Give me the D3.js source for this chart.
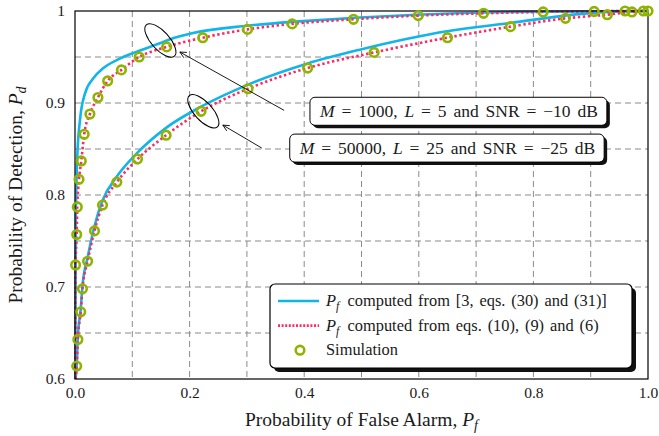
<!DOCTYPE html>
<html>
<head>
<meta charset="utf-8">
<script src="https://cdn.jsdelivr.net/npm/d3@7"></script>
<style>
    body { margin: 0; background: #fff; }
    svg text { font-family: "Liberation Serif", "DejaVu Serif", serif; fill: #1a1a1a; }
</style>
</head>
<body>
<div id="chart"></div>
<script>
//simulation points, M = 1000, L = 5, SNR = -10 dB
var pfSimA = [0.001, 0.003, 0.004, 0.007, 0.011, 0.016, 0.026, 0.040, 0.057, 0.081, 0.112, 0.160, 0.223, 0.301, 0.379, 0.486, 0.599, 0.713, 0.817, 0.906, 0.960, 0.992];
var pdSimA = [0.724, 0.757, 0.787, 0.817, 0.837, 0.866, 0.888, 0.906, 0.924, 0.936, 0.950, 0.961, 0.971, 0.980, 0.986, 0.991, 0.995, 0.9975, 0.999, 0.9995, 1.0, 1.0];

//simulation points, M = 50000, L = 25, SNR = -25 dB
var pfSimB = [0.003, 0.005, 0.010, 0.013, 0.022, 0.034, 0.048, 0.073, 0.109, 0.159, 0.220, 0.302, 0.406, 0.522, 0.650, 0.760, 0.856, 0.929, 0.972, 1.0];
var pdSimB = [0.614, 0.643, 0.673, 0.698, 0.728, 0.761, 0.789, 0.814, 0.839, 0.865, 0.891, 0.9155, 0.938, 0.955, 0.971, 0.983, 0.992, 0.996, 0.999, 1.0];

//curve from eqs. (10), (9) and (6)
var pfEqA = [0.0005, 0.001, 0.003, 0.004, 0.007, 0.011, 0.016, 0.026, 0.040, 0.057, 0.081, 0.112, 0.160, 0.223, 0.301, 0.379, 0.486, 0.599, 0.713, 0.817, 0.906, 0.960, 1.0];
var pdEqA = [0.600, 0.724, 0.757, 0.787, 0.817, 0.837, 0.866, 0.888, 0.906, 0.924, 0.936, 0.950, 0.961, 0.971, 0.980, 0.986, 0.991, 0.995, 0.9975, 0.999, 0.9995, 1.0, 1.0];
var pfEqB = [0.001, 0.003, 0.005, 0.010, 0.013, 0.022, 0.034, 0.048, 0.073, 0.109, 0.159, 0.220, 0.302, 0.406, 0.522, 0.650, 0.760, 0.856, 0.929, 0.972, 1.0];
var pdEqB = [0.600, 0.614, 0.643, 0.673, 0.698, 0.728, 0.761, 0.789, 0.814, 0.839, 0.865, 0.891, 0.9155, 0.938, 0.955, 0.971, 0.983, 0.992, 0.996, 0.999, 1.0];

//curve from [3, eqs. (30) and (31)]
var pfRefA = [0.0005, 0.0015, 0.004, 0.0087, 0.0175, 0.032, 0.049, 0.073, 0.108, 0.148, 0.166, 0.206, 0.300, 0.398, 0.497, 0.596, 0.771, 1.0];
var pdRefA = [0.600, 0.780, 0.842, 0.8815, 0.9105, 0.9268, 0.9377, 0.9467, 0.9558, 0.9649, 0.9692, 0.976, 0.984, 0.989, 0.993, 0.996, 0.999, 1.0];
var pfRefB = [0.001, 0.003, 0.005, 0.010, 0.013, 0.022, 0.034, 0.048, 0.073, 0.109, 0.159, 0.220, 0.302, 0.406, 0.497, 0.649, 0.759, 0.904, 1.0];
var pdRefB = [0.600, 0.616, 0.646, 0.676, 0.701, 0.732, 0.766, 0.794, 0.820, 0.846, 0.873, 0.896, 0.920, 0.943, 0.958, 0.978, 0.987, 0.998, 1.0];

//tick values
var xTicks = [0, 0.2, 0.4, 0.6, 0.8, 1.0];
var yTicks = [0.6, 0.7, 0.8, 0.9, 1.0];
var xGrid = [0.1, 0.2, 0.3, 0.4, 0.5, 0.6, 0.7, 0.8, 0.9];
var yGrid = [0.65, 0.7, 0.75, 0.8, 0.85, 0.9, 0.95];

//legend labels
var legendLabels = ['computed from [3, eqs. (30) and (31)]', 'computed from eqs. (10), (9) and (6)', 'Simulation'];

var width = 659, height = 436,
    margin = { top: 11, right: 11, bottom: 57, left: 75 },
    plotW = width - margin.left - margin.right,
    plotH = height - margin.top - margin.bottom,
    blue = '#12b5e8', red = '#ff2a62', green = '#8fb400';

var svg = d3.select('#chart').append('svg')
    .attr('width', width)
    .attr('height', height);

var g = svg.append('g')
    .attr('transform', 'translate(' + margin.left + ',' + margin.top + ')');

var x = d3.scaleLinear().domain([0, 1]).range([0, plotW]);
var y = d3.scaleLinear().domain([0.6, 1]).range([plotH, 0]);

//dashed grid
g.append('g').selectAll('line').data(xGrid).enter().append('line')
    .attr('x1', function (d) { return x(d); }).attr('x2', function (d) { return x(d); })
    .attr('y1', 0).attr('y2', plotH)
    .attr('stroke', '#8a8a8a').attr('stroke-width', 1).attr('stroke-dasharray', '6,4');
g.append('g').selectAll('line').data(yGrid).enter().append('line')
    .attr('y1', function (d) { return y(d); }).attr('y2', function (d) { return y(d); })
    .attr('x1', 0).attr('x2', plotW)
    .attr('stroke', '#8a8a8a').attr('stroke-width', 1).attr('stroke-dasharray', '6,4');

//axes
var xAxis = g.append('g')
    .attr('transform', 'translate(0,' + plotH + ')')
    .call(d3.axisBottom(x).tickValues(xTicks).tickSize(0).tickPadding(8).tickFormat(d3.format('.1f')));
var yAxis = g.append('g')
    .call(d3.axisLeft(y).tickValues(yTicks).tickSize(0).tickPadding(10)
        .tickFormat(function (d) { return d === 1 ? '1' : d3.format('.1f')(d); }));
[xAxis, yAxis].forEach(function (a) {
    a.select('.domain').remove();
    a.selectAll('text').attr('font-size', 15.5);
});

//line generator
var line = d3.line()
    .x(function (d) { return x(d[0]); })
    .y(function (d) { return y(d[1]); })
    .curve(d3.curveMonotoneX);

function zipPts(a, b) { return a.map(function (v, i) { return [v, b[i]]; }); }

//theory curves from [3]
[zipPts(pfRefA, pdRefA), zipPts(pfRefB, pdRefB)].forEach(function (pts) {
    g.append('path').datum(pts)
        .attr('d', line)
        .attr('fill', 'none')
        .attr('stroke', blue)
        .attr('stroke-width', 2.6);
});

//curves from eqs. (10), (9) and (6)
[zipPts(pfEqA, pdEqA), zipPts(pfEqB, pdEqB)].forEach(function (pts) {
    g.append('path').datum(pts)
        .attr('d', line)
        .attr('fill', 'none')
        .attr('stroke', red)
        .attr('stroke-width', 2.6)
        .attr('stroke-dasharray', '2.4,2.6');
});

//frame
g.append('rect')
    .attr('width', plotW).attr('height', plotH)
    .attr('fill', 'none').attr('stroke', '#000').attr('stroke-width', 1.2);

//simulation circles
zipPts(pfSimA, pdSimA).concat(zipPts(pfSimB, pdSimB)).forEach(function (p) {
    g.append('circle')
        .attr('cx', x(p[0])).attr('cy', y(p[1])).attr('r', 4.3)
        .attr('fill', 'none').attr('stroke', green).attr('stroke-width', 2.6);
});

//ellipses round the marked points
[[0.149, 0.968], [0.224, 0.891]].forEach(function (c) {
    g.append('ellipse')
        .attr('transform', 'translate(' + x(c[0]) + ',' + y(c[1]) + ') rotate(48)')
        .attr('rx', 21).attr('ry', 9)
        .attr('fill', 'none').attr('stroke', '#000').attr('stroke-width', 1);
});

//arrows, tip first then tail
[[0.183, 0.9554, 0.365, 0.892], [0.258, 0.876, 0.326, 0.851]].forEach(function (a) {
    var x1 = x(a[0]), y1 = y(a[1]), x2 = x(a[2]), y2 = y(a[3]),
        ang = Math.atan2(y2 - y1, x2 - x1), len = 7, spread = 0.45;
    g.append('line')
        .attr('x1', x1).attr('y1', y1)
        .attr('x2', x2).attr('y2', y2)
        .attr('stroke', '#000').attr('stroke-width', 0.9);
    g.append('path')
        .attr('d', 'M' + (x1 + len * Math.cos(ang - spread)) + ',' + (y1 + len * Math.sin(ang - spread)) +
            ' L' + x1 + ',' + y1 +
            ' L' + (x1 + len * Math.cos(ang + spread)) + ',' + (y1 + len * Math.sin(ang + spread)))
        .attr('fill', 'none').attr('stroke', '#000').attr('stroke-width', 0.9);
});

//writes a math run of text parts into a text element
function writeParts(t, parts) {
    parts.forEach(function (p) {
        var s = t.append('tspan').text(p.t);
        if (p.i) s.attr('font-style', 'italic');
        if (p.sub) s.attr('font-size', '0.72em').attr('dy', 4);
        if (p.up) s.attr('dy', -4);
    });
}

//boxed annotation labels
var boxes = [
    { cx: 0.670, cy: 0.891, parts: [{ t: 'M', i: 1 }, { t: ' = 1000, ' }, { t: 'L', i: 1 }, { t: ' = 5 and SNR = \u221210 dB' }] },
    { cx: 0.650, cy: 0.851, parts: [{ t: 'M', i: 1 }, { t: ' = 50000, ' }, { t: 'L', i: 1 }, { t: ' = 25 and SNR = \u221225 dB' }] }
];
boxes.forEach(function (b) {
    var bg = g.append('g');
    var txt = bg.append('text')
        .attr('x', x(b.cx)).attr('y', y(b.cy) + 6)
        .attr('text-anchor', 'middle')
        .attr('font-size', 17.5)
        .attr('word-spacing', 2.5);
    writeParts(txt, b.parts);
    var bb = txt.node().getBBox();
    var bx = bb.x - 9, by = y(b.cy) - 14, bw = bb.width + 18, bh = 28;
    bg.insert('rect', 'text')
        .attr('x', bx + 3).attr('y', by + 3).attr('width', bw).attr('height', bh)
        .attr('rx', 5).attr('fill', '#111');
    bg.insert('rect', 'text')
        .attr('x', bx).attr('y', by).attr('width', bw).attr('height', bh)
        .attr('rx', 5).attr('fill', '#fff').attr('stroke', '#000').attr('stroke-width', 1);
});

//legend
var lgX = 270 - margin.left, lgY = 284 - margin.top, lgW = 362, lgH = 84;
var legend = g.append('g');
legend.append('rect')
    .attr('x', lgX + 4).attr('y', lgY + 4).attr('width', lgW).attr('height', lgH)
    .attr('rx', 5).attr('fill', '#111');
legend.append('rect')
    .attr('x', lgX).attr('y', lgY).attr('width', lgW).attr('height', lgH)
    .attr('rx', 5).attr('fill', '#fff').attr('stroke', '#000').attr('stroke-width', 1.2);

legendLabels.forEach(function (lab, i) {
    var ly = lgY + 17 + i * 24.6;
    if (i < 2) {
        legend.append('line')
            .attr('x1', lgX + 8).attr('x2', lgX + 49)
            .attr('y1', ly).attr('y2', ly)
            .attr('stroke', i === 0 ? blue : red)
            .attr('stroke-width', 2.6)
            .attr('stroke-dasharray', i === 0 ? null : '2,1.6');
        var t = legend.append('text')
            .attr('x', lgX + 56).attr('y', ly + 5)
            .attr('font-size', 16.4)
            .attr('word-spacing', 1.8);
        writeParts(t, [{ t: 'P', i: 1 }, { t: 'f', i: 1, sub: 1 }, { t: '\u2002' + lab, up: 1 }]);
    } else {
        legend.append('circle')
            .attr('cx', lgX + 30).attr('cy', ly).attr('r', 4.3)
            .attr('fill', 'none').attr('stroke', green).attr('stroke-width', 2.6);
        legend.append('text')
            .attr('x', lgX + 56).attr('y', ly + 5)
            .attr('font-size', 16.4)
            .text(lab);
    }
});

//axis titles
var xt = svg.append('text')
    .attr('x', margin.left + plotW / 2).attr('y', 426)
    .attr('text-anchor', 'middle').attr('font-size', 19.5);
writeParts(xt, [{ t: 'Probability of False Alarm, ' }, { t: 'P', i: 1 }, { t: 'f', i: 1, sub: 1 }]);

var yt = svg.append('text')
    .attr('transform', 'translate(22,' + (margin.top + plotH / 2) + ') rotate(-90)')
    .attr('text-anchor', 'middle').attr('font-size', 19.5);
writeParts(yt, [{ t: 'Probability of Detection, ' }, { t: 'P', i: 1 }, { t: 'd', i: 1, sub: 1 }]);
</script>
</body>
</html>
